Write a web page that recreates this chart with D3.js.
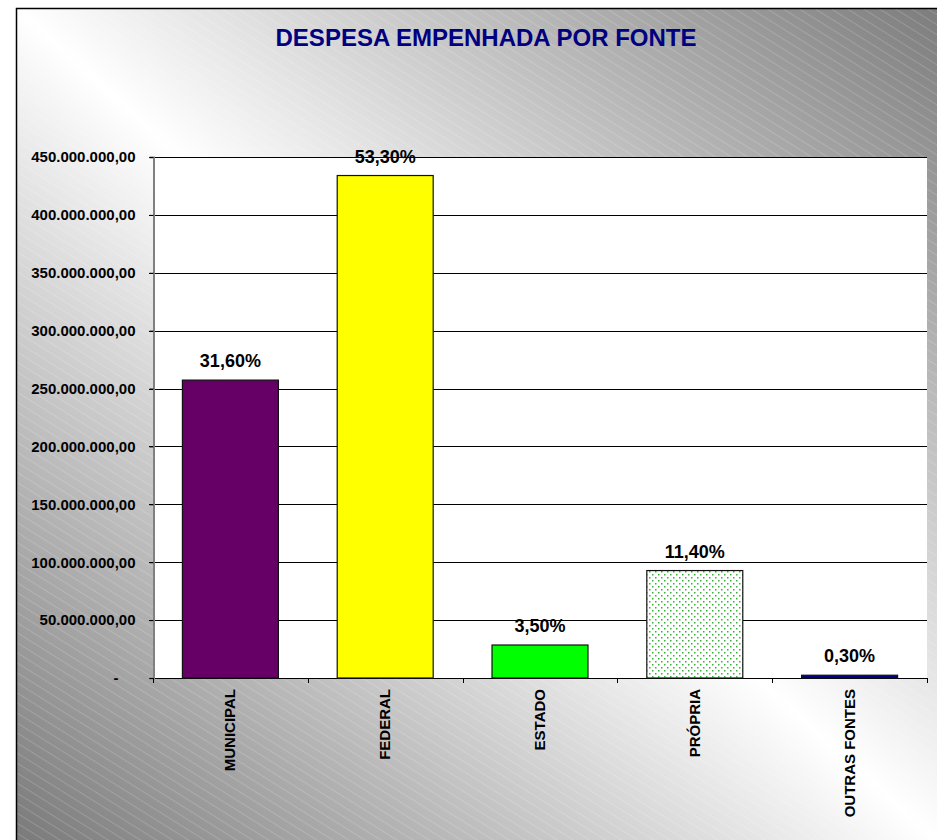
<!DOCTYPE html>
<html>
<head>
<meta charset="utf-8">
<script src="https://cdn.jsdelivr.net/npm/d3@7"></script>
<style>
  body { margin: 0; background: #fff; }
  svg { display: block; font-family: Arial, "Liberation Sans", sans-serif; }
</style>
</head>
<body>
<div id="chart"></div>
<script>
const w = 937;
const h = 840;

// data
const categories = ['MUNICIPAL', 'FEDERAL', 'ESTADO', 'PRÓPRIA', 'OUTRAS FONTES'];
const values = [257300000, 434000000, 28500000, 92800000, 2400000];
const shares = [31.6, 53.3, 3.5, 11.4, 0.3];
const yTicks = [0, 50000000, 100000000, 150000000, 200000000, 250000000, 300000000, 350000000, 400000000, 450000000];
const fills = ['#660066', '#ffff00', '#00ff00', 'url(#dots)', '#000080'];

const dataset = categories.map((c, i) => ({cat: c, value: values[i], share: shares[i], fill: fills[i]}));

const plot = {left: 153, top: 157, right: 927, bottom: 678};

const br = d3.formatLocale({decimal: ',', thousands: '.', grouping: [3], currency: ['', '']});
const fmtMoney = br.format(',.2f');
const fmtPct = br.format('.2f');

const svg = d3.select('#chart')
              .append('svg')
              .attr('width', w)
              .attr('height', h);

const defs = svg.append('defs');

const grad = defs.append('linearGradient')
   .attr('id', 'bg')
   .attr('x1', 0).attr('y1', 1)
   .attr('x2', 1).attr('y2', 0);
grad.append('stop').attr('offset', 0).attr('stop-color', '#777');
grad.append('stop').attr('offset', 0.5).attr('stop-color', '#fff');
grad.append('stop').attr('offset', 1).attr('stop-color', '#7a7a7a');

const hatch = defs.append('pattern')
   .attr('id', 'hatch')
   .attr('patternUnits', 'userSpaceOnUse')
   .attr('width', 12)
   .attr('height', 8.5)
   .attr('patternTransform', 'rotate(32)');
hatch.append('line')
   .attr('x1', 0).attr('x2', 12)
   .attr('y1', 0.5).attr('y2', 0.5)
   .attr('stroke', '#fff')
   .attr('stroke-opacity', 0.17)
   .attr('stroke-width', 1);

const dots = defs.append('pattern')
   .attr('id', 'dots')
   .attr('patternUnits', 'userSpaceOnUse')
   .attr('width', 6)
   .attr('height', 6);
dots.append('rect').attr('width', 6).attr('height', 6).attr('fill', '#fff');
dots.append('rect').attr('x', 1).attr('y', 1).attr('width', 1.5).attr('height', 1.5).attr('fill', '#3aae3a');
dots.append('rect').attr('x', 4).attr('y', 4).attr('width', 1.5).attr('height', 1.5).attr('fill', '#3aae3a');

// chart area background
svg.append('rect')
   .attr('x', 16.5).attr('y', 8.5)
   .attr('width', 940).attr('height', 850)
   .attr('fill', 'url(#bg)');
svg.append('rect')
   .attr('x', 16.5).attr('y', 8.5)
   .attr('width', 940).attr('height', 850)
   .attr('fill', 'url(#hatch)')
   .attr('stroke', '#000')
   .attr('stroke-width', 1.5);

svg.append('text')
   .attr('x', 486)
   .attr('y', 46)
   .attr('text-anchor', 'middle')
   .attr('font-size', '24px')
   .attr('font-weight', 'bold')
   .attr('fill', '#000080')
   .text('DESPESA EMPENHADA POR FONTE');

const xScale = d3.scaleBand()
   .domain(categories)
   .range([plot.left, plot.right])
   .paddingInner(0.38)
   .paddingOuter(0.19);

const yScale = d3.scaleLinear()
   .domain([0, 450000000])
   .range([plot.bottom, plot.top]);

svg.append('rect')
   .attr('x', plot.left)
   .attr('y', plot.top)
   .attr('width', plot.right - plot.left)
   .attr('height', plot.bottom - plot.top)
   .attr('fill', '#fff');

// gridlines
svg.selectAll('.grid')
   .data(yTicks)
   .enter()
   .append('line')
   .attr('class', 'grid')
   .attr('x1', plot.left - 4)
   .attr('x2', plot.right)
   .attr('y1', d => Math.round(yScale(d)) + 0.5)
   .attr('y2', d => Math.round(yScale(d)) + 0.5)
   .attr('stroke', '#000')
   .attr('stroke-width', 1);

// bars
svg.selectAll('.bar')
   .data(dataset)
   .enter()
   .append('rect')
   .attr('class', 'bar')
   .attr('x', d => xScale(d.cat))
   .attr('y', d => yScale(d.value))
   .attr('width', xScale.bandwidth())
   .attr('height', d => yScale(0) - yScale(d.value))
   .attr('fill', d => d.fill)
   .attr('stroke', '#111')
   .attr('stroke-width', 1.2);

svg.selectAll('.pct')
   .data(dataset)
   .enter()
   .append('text')
   .attr('class', 'pct')
   .attr('x', d => xScale(d.cat) + xScale.bandwidth() / 2)
   .attr('y', d => yScale(d.value) - 13)
   .attr('text-anchor', 'middle')
   .attr('font-size', '18px')
   .attr('font-weight', 'bold')
   .attr('fill', '#000')
   .text(d => fmtPct(d.share) + '%');

// y axis
const yAxis = d3.axisLeft(yScale)
   .tickValues(yTicks)
   .tickSize(4)
   .tickPadding(14)
   .tickFormat(d => d === 0 ? '-' : fmtMoney(d));
const yG = svg.append('g')
   .attr('id', 'y-axis')
   .attr('transform', `translate(${plot.left + 0.5}, 0)`)
   .call(yAxis);
yG.select('.domain').attr('stroke', '#808080').attr('stroke-width', 2);
yG.selectAll('.tick line').attr('stroke', '#000');
yG.selectAll('.tick text')
   .attr('font-size', '15px')
   .attr('font-weight', 'bold')
   .attr('font-family', 'Arial, "Liberation Sans", sans-serif')
   .attr('fill', '#000')
   .attr('dx', d => d === 0 ? -17 : 0);

// x axis: ticks at band boundaries, labels rotated
const step = xScale.step();
const bounds = categories.map(c => xScale(c) - step * xScale.paddingInner() / 2)
   .concat([plot.right]);
svg.selectAll('.xtick')
   .data(bounds)
   .enter()
   .append('line')
   .attr('class', 'xtick')
   .attr('x1', d => Math.round(d) + 0.5)
   .attr('x2', d => Math.round(d) + 0.5)
   .attr('y1', plot.bottom)
   .attr('y2', plot.bottom + 5)
   .attr('stroke', '#000');

svg.selectAll('.xlab')
   .data(categories)
   .enter()
   .append('text')
   .attr('class', 'xlab')
   .attr('transform', d => `translate(${xScale(d) + xScale.bandwidth() / 2 + 5}, ${plot.bottom + 11}) rotate(-90)`)
   .attr('text-anchor', 'end')
   .attr('font-size', '15px')
   .attr('font-weight', 'bold')
   .attr('fill', '#000')
   .text(d => d);
</script>
</body>
</html>
